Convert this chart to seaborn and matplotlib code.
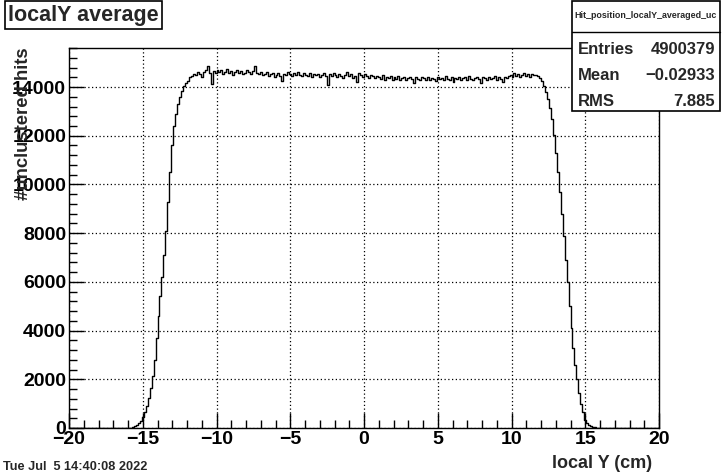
import numpy as np
import pandas as pd
import matplotlib
matplotlib.use("Agg")
import matplotlib.pyplot as plt
from matplotlib.ticker import MultipleLocator
import seaborn as sns

# ---- data ----
x_min, x_max, n_bins = -20.0, 20.0, 300
first_bin = 30  # first non-empty bin index
rise = [10, 20, 40, 70, 120, 200, 300, 450, 650, 900, 1250, 1650, 2150, 2800,
        3700, 4600, 5400, 6200, 7100, 8100, 9300, 10500, 11600, 12400, 12900,
        13300, 13600, 13850, 14050, 14150, 14250, 14400]
plateau = [
    14450, 14520, 14480, 14600, 14550, 14420, 14630, 14700, 14880, 14560, 14130, 14650, 14580, 14720, 14610, 14690,
    14540, 14620, 14750, 14580, 14660, 14500, 14610, 14700, 14560, 14640, 14520, 14590, 14680, 14610, 14550, 14640,
    14860, 14570, 14520, 14600, 14480, 14550, 14610, 14460, 14530, 14580, 14420, 14500, 14560, 14470, 14260, 14540,
    14480, 14600, 14530, 14450, 14580, 14490, 14620, 14510, 14440, 14560, 14500, 14470, 14590, 14420, 14530, 14480,
    14550, 14410, 14500, 14570, 14460, 14090, 14520, 14440, 14560, 14480, 14430, 14540, 14470, 14390, 14510, 14600,
    14450, 14520, 14380, 14470, 14210, 14560, 14490, 14420, 14530, 14460, 14380, 14500, 14440, 14360, 14470, 14410,
    14350, 14480, 14300, 14420, 14370, 14450, 14280, 14400, 14340, 14460, 14310, 14390, 14430, 14290, 14370, 14420,
    14330, 14180, 14400, 14350, 14290, 14420, 14360, 14300, 14430, 14270, 14380, 14340, 14250, 14410, 14330, 14370,
    14290, 14440, 14350, 14310, 14400, 14200, 14380, 14330, 14420, 14290, 14360, 14400, 14310, 14450, 14350, 14280,
    14390, 14430, 14320, 14160, 14400, 14360, 14290, 14420, 14340, 14380, 14450, 14310, 14400, 14350, 14200, 14430,
    14380, 14470, 14500, 14420, 14560, 14450, 14530, 14400, 14490, 14580, 14460, 14520, 14410, 14550, 14480, 14500,
]
fall = [14450, 14380, 14250, 14050, 13800, 13500, 13150, 12700, 12050, 11300,
        10500, 9700, 8800, 7900, 6900, 6000, 5000, 4100, 3300, 2600, 2000, 1450,
        1000, 650, 320, 200, 120, 75, 45, 28, 15, 5]

x_ticks_major = 5
x_ticks_minor = 1
y_ticks_major = 2000
y_ticks_minor = 400

title_text = "localY average"
hist_name = "Hit_position_localY_averaged_uc"
stat_labels = ["Entries", "Mean", "RMS"]
stat_values = ["4900379", "\u22120.02933", "7.885"]
x_label = "local Y (cm)"
y_label = "#unclustered hits"
date_text = "Tue Jul  5 14:40:08 2022"

# ---- build the histogram table ----
edges = np.linspace(x_min, x_max, n_bins + 1)
centers = 0.5 * (edges[:-1] + edges[1:])
counts = np.zeros(n_bins)
filled = rise + plateau + fall
counts[first_bin:first_bin + len(filled)] = filled
df = pd.DataFrame({"localY": centers, "hits": counts})

# ---- style ----
sns.set_theme(style="white")
plt.rcParams["font.family"] = ["Liberation Sans", "DejaVu Sans"]
plt.rcParams["font.weight"] = "bold"
plt.rcParams["axes.unicode_minus"] = True

fig = plt.figure(figsize=(7.23, 4.75), dpi=100)
ax = fig.add_axes([69 / 723, 1 - 428 / 475, 590 / 723, (428 - 47.5) / 475])

sns.histplot(data=df, x="localY", weights="hits", bins=n_bins, binrange=(x_min, x_max),
             element="step", fill=False, color="black", linewidth=1.0, ax=ax)

ax.set_xlim(x_min, x_max)
ax.set_ylim(0, max(filled) * 1.05)

ax.xaxis.set_major_locator(MultipleLocator(x_ticks_major))
ax.xaxis.set_minor_locator(MultipleLocator(x_ticks_minor))
ax.yaxis.set_major_locator(MultipleLocator(y_ticks_major))
ax.yaxis.set_minor_locator(MultipleLocator(y_ticks_minor))

ax.tick_params(axis="both", which="both", direction="in", top=False, right=False,
               bottom=True, left=True, colors="black", labelsize=14)
ax.tick_params(axis="x", which="major", length=11, width=1, pad=2)
ax.tick_params(axis="x", which="minor", length=5.5, width=1)
ax.tick_params(axis="y", which="major", length=11, width=1, pad=2)
ax.tick_params(axis="y", which="minor", length=5.5, width=1)
for lab in ax.get_xticklabels() + ax.get_yticklabels():
    lab.set_fontweight("bold")

ax.grid(True, which="major", color="black", linestyle=(0, (1, 2)), linewidth=0.9)
for s in ax.spines.values():
    s.set_color("black")
    s.set_linewidth(1.0)
    s.set_visible(True)

ax.set_xlabel("")
ax.set_ylabel("")
fig.text(652 / 723, 1 - 463 / 475, x_label, ha="right", va="center",
         fontsize=13, fontweight="bold")
fig.text(24 / 723, 1 - 47 / 475, y_label, ha="center", va="top", rotation=90,
         fontsize=13.3, fontweight="bold")

# title box
fig.text(8 / 723, 1 - 15 / 475, title_text, ha="left", va="center", fontsize=15.5,
         fontweight="bold",
         bbox=dict(boxstyle="square,pad=0.15", facecolor="white", edgecolor="black", linewidth=1.2))

# stats box
bx0, bx1, by0, by1, bsep = 571.5 / 723, 719.5 / 723, 1 - 110.5 / 475, 1 - 0.5 / 475, 1 - 31.5 / 475
fig.patches.append(plt.Rectangle((bx0, by0), bx1 - bx0, by1 - by0, transform=fig.transFigure,
                                 facecolor="white", edgecolor="black", linewidth=1.2, zorder=5))
fig.lines.append(plt.Line2D([bx0, bx1], [bsep, bsep], transform=fig.transFigure,
                            color="black", linewidth=1.0, zorder=6))
fig.text((bx0 + bx1) / 2, 1 - 16 / 475, hist_name, ha="center", va="center",
         fontsize=6.4, fontweight="bold", zorder=7)
row_y = [50, 75, 101]
for lab, val, yy in zip(stat_labels, stat_values, row_y):
    fig.text(578 / 723, 1 - yy / 475, lab, ha="left", va="center", fontsize=12,
             fontweight="bold", zorder=7)
    fig.text(715 / 723, 1 - yy / 475, val, ha="right", va="center", fontsize=12,
             fontweight="bold", zorder=7)

fig.text(3 / 723, 1 - 467 / 475, date_text, ha="left", va="center", fontsize=9.2,
         fontweight="bold")

fig.savefig("out.png", dpi=100, facecolor="white")
